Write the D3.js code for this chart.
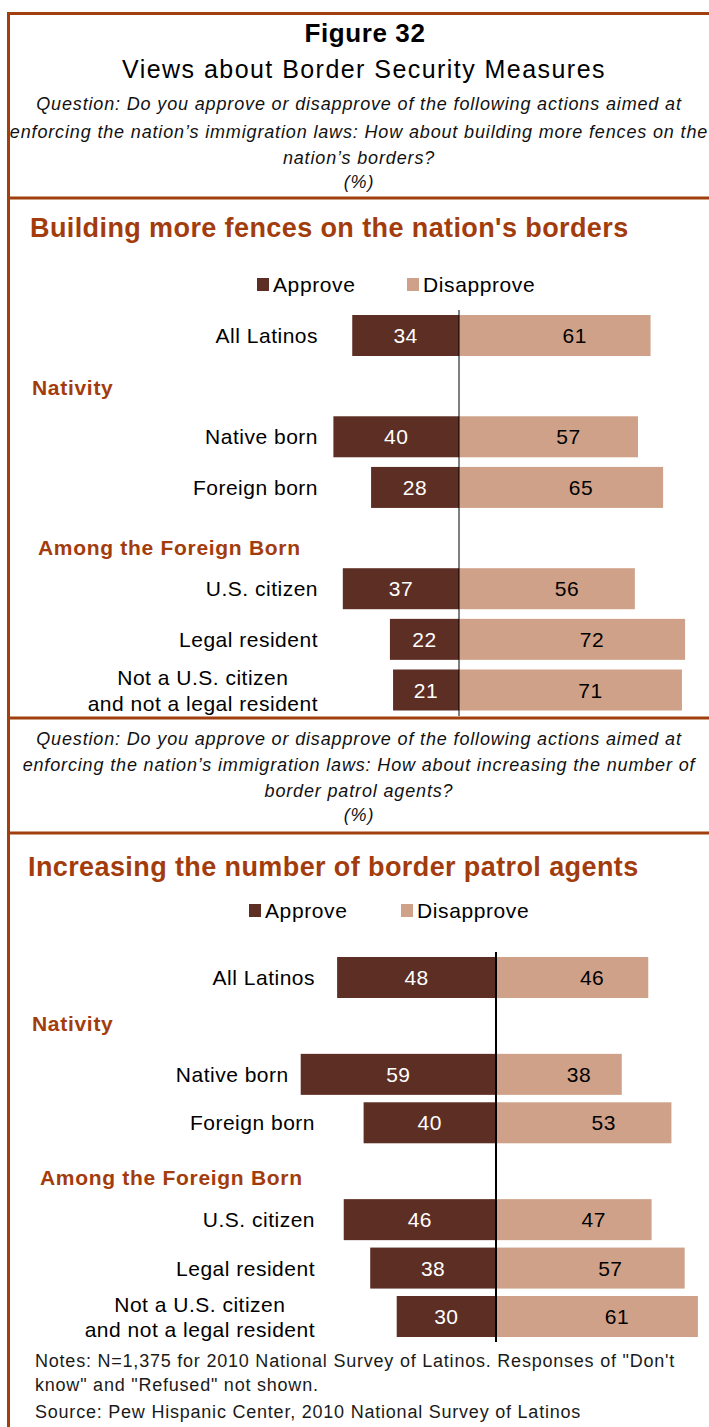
<!DOCTYPE html>
<html>
<head>
<meta charset="utf-8">
<script src="https://cdn.jsdelivr.net/npm/d3@7"></script>
<style>
  html, body { margin: 0; padding: 0; background: #ffffff; }
  svg { display: block; font-family: "Liberation Sans", Arial, Helvetica, sans-serif; }
</style>
</head>
<body>
<svg id="chart" width="709" height="1427"></svg>
<script>
// ---- data ----
const rowNames = [
  "All Latinos",
  "Nativity",
  "Native born",
  "Foreign born",
  "Among the Foreign Born",
  "U.S. citizen",
  "Legal resident",
  "Not a U.S. citizen\nand not a legal resident"
];
const groupHeaders = ["Nativity", "Among the Foreign Born"];
const seriesNames = ["Approve", "Disapprove"];

const fenceApprove    = [34, 40, 28, 37, 22, 21];
const fenceDisapprove = [61, 57, 65, 56, 72, 71];
const agentApprove    = [48, 59, 40, 46, 38, 30];
const agentDisapprove = [46, 38, 53, 47, 57, 61];

const questionFences = [
  "Question: Do you approve or disapprove of the following actions aimed at",
  "enforcing the nation\u2019s immigration laws: How about building more fences on the",
  "nation\u2019s borders?",
  "(%)"
];
const questionAgents = [
  "Question: Do you approve or disapprove of the following actions aimed at",
  "enforcing the nation\u2019s immigration laws: How about increasing the number of",
  "border patrol agents?",
  "(%)"
];
const notes = [
  "Notes: N=1,375 for 2010 National Survey of Latinos. Responses of \"Don't",
  "know\" and \"Refused\" not shown.",
  "Source: Pew Hispanic Center, 2010 National Survey of Latinos"
];

// ---- style ----
const C = {
  frame: "#A0400F",
  accent: "#A33C0C",
  approve: "#5C2E24",
  disapprove: "#CFA188",
  ink: "#000000",
  note: "#1a1a1a"
};

const svg = d3.select("#chart");
const W = 709, H = 1427;

// frame and section rules
const frame = svg.append("g");
frame.append("line").attr("x1", 8.5).attr("x2", 8.5).attr("y1", 12).attr("y2", H)
  .attr("stroke", C.frame).attr("stroke-width", 3);
[13.5, 198, 718, 833].forEach(y => {
  frame.append("line").attr("x1", 7).attr("x2", W).attr("y1", y).attr("y2", y)
    .attr("stroke", C.frame).attr("stroke-width", 3);
});

// heading
svg.append("text").attr("x", 365).attr("y", 42).attr("text-anchor", "middle")
  .attr("font-size", 26).attr("font-weight", "bold").attr("letter-spacing", 0.6)
  .text("Figure 32");
svg.append("text").attr("x", 364).attr("y", 78).attr("text-anchor", "middle")
  .attr("font-size", 25).attr("letter-spacing", 1.45)
  .text("Views about Border Security Measures");

function question(lines, baselines) {
  const g = svg.append("g").attr("font-style", "italic").attr("font-size", 18)
    .attr("fill", "#111").attr("text-anchor", "middle").attr("letter-spacing", 0.85);
  lines.forEach((s, i) => g.append("text").attr("x", 359).attr("y", baselines[i]).text(s));
}
question(questionFences, [110, 138, 164, 188]);
question(questionAgents, [745, 771, 797, 821]);

// ---- one diverging panel ----
function panel(cfg) {
  const g = svg.append("g");
  const dataRows = rowNames.filter(r => !groupHeaders.includes(r));
  const rows = dataRows.map((name, i) => ({
    name, approve: cfg.approve[i], disapprove: cfg.disapprove[i]
  }));

  const x = d3.scaleLinear().domain([-100, 100])
    .range([cfg.zero - 100 * cfg.unit, cfg.zero + 100 * cfg.unit]);
  const y = d3.scalePoint().domain(rowNames).range([cfg.rowTop, cfg.rowBottom]);
  const bh = 41;

  // panel title
  g.append("text").attr("x", cfg.titleX).attr("y", cfg.titleY)
    .attr("font-size", 27).attr("font-weight", "bold").attr("fill", C.accent)
    .attr("letter-spacing", 0.4).text(cfg.title);

  // legend
  const lg = g.append("g").attr("font-size", 21).attr("letter-spacing", 0.6);
  seriesNames.forEach((s, i) => {
    const lx = cfg.legendX + i * cfg.legendGap;
    lg.append("rect").attr("x", lx).attr("y", cfg.legendY).attr("width", 12).attr("height", 13)
      .attr("fill", i === 0 ? C.approve : C.disapprove);
    lg.append("text").attr("x", lx + cfg.legendTextDx).attr("y", cfg.legendY + 14).text(s);
  });

  // group headers
  groupHeaders.forEach((h, i) => {
    g.append("text").attr("x", cfg.headerX[i]).attr("y", y(h) + cfg.headerDy[i])
      .attr("font-size", 21).attr("font-weight", "bold").attr("fill", C.accent)
      .attr("letter-spacing", 0.7).text(h);
  });

  // bars
  g.selectAll("rect.approve").data(rows).join("rect").attr("class", "approve")
    .attr("x", d => x(-d.approve)).attr("width", d => x(0) - x(-d.approve))
    .attr("y", d => y(d.name) - bh / 2).attr("height", bh).attr("fill", C.approve);
  g.selectAll("rect.disapprove").data(rows).join("rect").attr("class", "disapprove")
    .attr("x", x(0)).attr("width", d => x(d.disapprove) - x(0))
    .attr("y", d => y(d.name) - bh / 2).attr("height", bh).attr("fill", C.disapprove);

  // value labels
  const vg = g.append("g").attr("font-size", 21).attr("text-anchor", "middle").attr("letter-spacing", 0.5);
  vg.selectAll("text.a").data(rows).join("text").attr("class", "a")
    .attr("x", d => (x(-d.approve) + x(0)) / 2).attr("y", d => y(d.name) + 7.5)
    .attr("fill", "#ffffff").text(d => d.approve);
  vg.selectAll("text.d").data(rows).join("text").attr("class", "d")
    .attr("x", d => (x(0) + x(d.disapprove)) / 2 + 20).attr("y", d => y(d.name) + 7.5)
    .attr("fill", C.ink).text(d => d.disapprove);

  // category labels (multi-line labels are centred on their widest line)
  rows.forEach(d => {
    const lines = d.name.split("\n");
    const right = Math.min(cfg.labelRight, x(-d.approve) - 12);
    const t = g.append("g").attr("font-size", 21).attr("letter-spacing", 0.5).attr("fill", C.ink);
    if (lines.length === 1) {
      t.append("text").attr("x", right).attr("y", y(d.name) + 7.5)
        .attr("text-anchor", "end").text(lines[0]);
    } else {
      const tmp = lines.map(s => t.append("text").text(s));
      const wMax = d3.max(tmp, n => n.node().getComputedTextLength());
      const cx = right - wMax / 2;
      tmp.forEach((n, i) => n.attr("x", cx).attr("text-anchor", "middle")
        .attr("y", y(d.name) + 7.5 + (i - 0.5) * cfg.lineGap));
    }
  });

  // zero line
  g.append("line").attr("x1", x(0)).attr("x2", x(0))
    .attr("y1", cfg.zeroTop).attr("y2", cfg.zeroBottom)
    .attr("stroke", "#000").attr("stroke-width", cfg.zeroWidth);
}

panel({
  title: "Building more fences on the nation's borders",
  approve: fenceApprove, disapprove: fenceDisapprove,
  zero: 459, unit: 3.14, rowTop: 335.5, rowBottom: 690,
  titleX: 30, titleY: 237,
  legendX: 257, legendY: 278, legendGap: 150, legendTextDx: 16,
  headerX: [32, 38], headerDy: [9, 17],
  labelRight: 318, lineGap: 26,
  zeroTop: 310, zeroBottom: 716, zeroWidth: 1
});

panel({
  title: "Increasing the number of border patrol agents",
  approve: agentApprove, disapprove: agentDisapprove,
  zero: 496, unit: 3.31, rowTop: 977.5, rowBottom: 1316.5,
  titleX: 28, titleY: 876,
  legendX: 249, legendY: 904, legendGap: 152, legendTextDx: 16,
  headerX: [32, 40], headerDy: [5, 14],
  labelRight: 315, lineGap: 25,
  zeroTop: 952, zeroBottom: 1342, zeroWidth: 2
});

// notes
const ng = svg.append("g").attr("font-size", 18).attr("fill", C.note).attr("letter-spacing", 0.78);
[1367, 1391, 1418].forEach((yy, i) => ng.append("text").attr("x", 35).attr("y", yy).text(notes[i]));
</script>
</body>
</html>
